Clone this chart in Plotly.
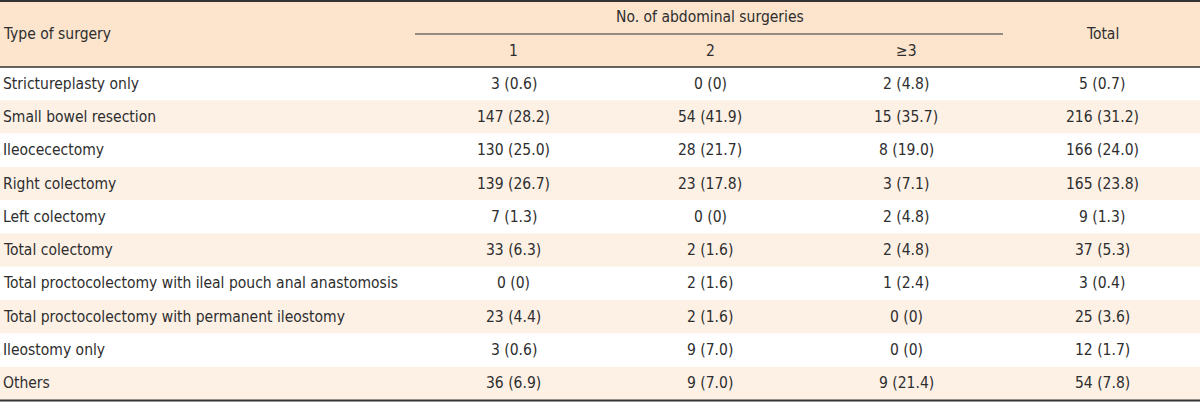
import plotly.graph_objects as go

surgery_types = [
    "Strictureplasty only",
    "Small bowel resection",
    "Ileocecectomy",
    "Right colectomy",
    "Left colectomy",
    "Total colectomy",
    "Total proctocolectomy with ileal pouch anal anastomosis",
    "Total proctocolectomy with permanent ileostomy",
    "Ileostomy only",
    "Others",
]
col_1 = ["3 (0.6)", "147 (28.2)", "130 (25.0)", "139 (26.7)", "7 (1.3)",
         "33 (6.3)", "0 (0)", "23 (4.4)", "3 (0.6)", "36 (6.9)"]
col_2 = ["0 (0)", "54 (41.9)", "28 (21.7)", "23 (17.8)", "0 (0)",
         "2 (1.6)", "2 (1.6)", "2 (1.6)", "9 (7.0)", "9 (7.0)"]
col_3 = ["2 (4.8)", "15 (35.7)", "8 (19.0)", "3 (7.1)", "2 (4.8)",
         "2 (4.8)", "1 (2.4)", "0 (0)", "0 (0)", "9 (21.4)"]
col_total = ["5 (0.7)", "216 (31.2)", "166 (24.0)", "165 (23.8)", "9 (1.3)",
             "37 (5.3)", "3 (0.4)", "25 (3.6)", "12 (1.7)", "54 (7.8)"]

header_left = "Type of surgery"
header_group = "No. of abdominal surgeries"
sub_headers = ["1", "2", "≥3"]
header_total = "Total"

W, H = 1200, 402
FONT = "DejaVu Sans Condensed, Liberation Sans Narrow, Roboto, sans-serif"
TXT = "#2e2e2e"
HEAD_BG = "#fce4cd"
ALT_BG = "#fdf1e6"
LINE = "#333333"

header_h = 67
row_h = (400 - header_h) / len(surgery_types)
col_bounds = [415, 612, 808, 1004, 1200]
col_centers = [(col_bounds[i] + col_bounds[i + 1]) / 2 for i in range(4)]

fig = go.Figure()
shapes = []
annotations = []

shapes.append(dict(type="rect", xref="x", yref="y", x0=0, x1=W, y0=0, y1=header_h,
                   fillcolor=HEAD_BG, line=dict(width=0), layer="below"))
for i in range(len(surgery_types)):
    y0 = header_h + i * row_h
    fill = "white" if i % 2 == 0 else ALT_BG
    shapes.append(dict(type="rect", xref="x", yref="y", x0=0, x1=W, y0=y0, y1=y0 + row_h,
                       fillcolor=fill, line=dict(width=0), layer="below"))

shapes.append(dict(type="line", xref="x", yref="y", x0=0, x1=W, y0=1, y1=1,
                   line=dict(color=LINE, width=2)))
shapes.append(dict(type="line", xref="x", yref="y", x0=0, x1=W, y0=header_h, y1=header_h,
                   line=dict(color=LINE, width=1.5)))
shapes.append(dict(type="line", xref="x", yref="y", x0=col_bounds[0], x1=col_bounds[3] - 1,
                   y0=34, y1=34, line=dict(color=LINE, width=1.2)))
shapes.append(dict(type="line", xref="x", yref="y", x0=0, x1=W, y0=400.5, y1=400.5,
                   line=dict(color=LINE, width=2)))

def add_text(x, y, text, anchor="center"):
    annotations.append(dict(x=x, y=y, xref="x", yref="y", text=text, showarrow=False,
                            xanchor=anchor, yanchor="middle",
                            font=dict(family=FONT, size=15.5, color=TXT)))

add_text(1, 34, header_left, "left")
add_text((col_bounds[0] + col_bounds[3]) / 2, 17, header_group)
for c, s in zip(col_centers[:3], sub_headers):
    add_text(c, 50.5, s)
add_text(col_centers[3], 34, header_total)

for i, name in enumerate(surgery_types):
    yc = header_h + (i + 0.5) * row_h
    add_text(1, yc, name, "left")
    for c, vals in zip(col_centers, [col_1, col_2, col_3, col_total]):
        add_text(c, yc, vals[i])

fig.update_layout(
    width=W, height=H,
    margin=dict(l=0, r=0, t=0, b=0, pad=0),
    paper_bgcolor="white", plot_bgcolor="white",
    xaxis=dict(range=[0, W], visible=False, fixedrange=True),
    yaxis=dict(range=[H, 0], visible=False, fixedrange=True),
    shapes=shapes, annotations=annotations, showlegend=False,
)
fig.write_html("out.html", config={"displayModeBar": False},
               post_script="document.body.style.margin='0';document.body.style.padding='0';document.body.style.overflow='hidden';")
